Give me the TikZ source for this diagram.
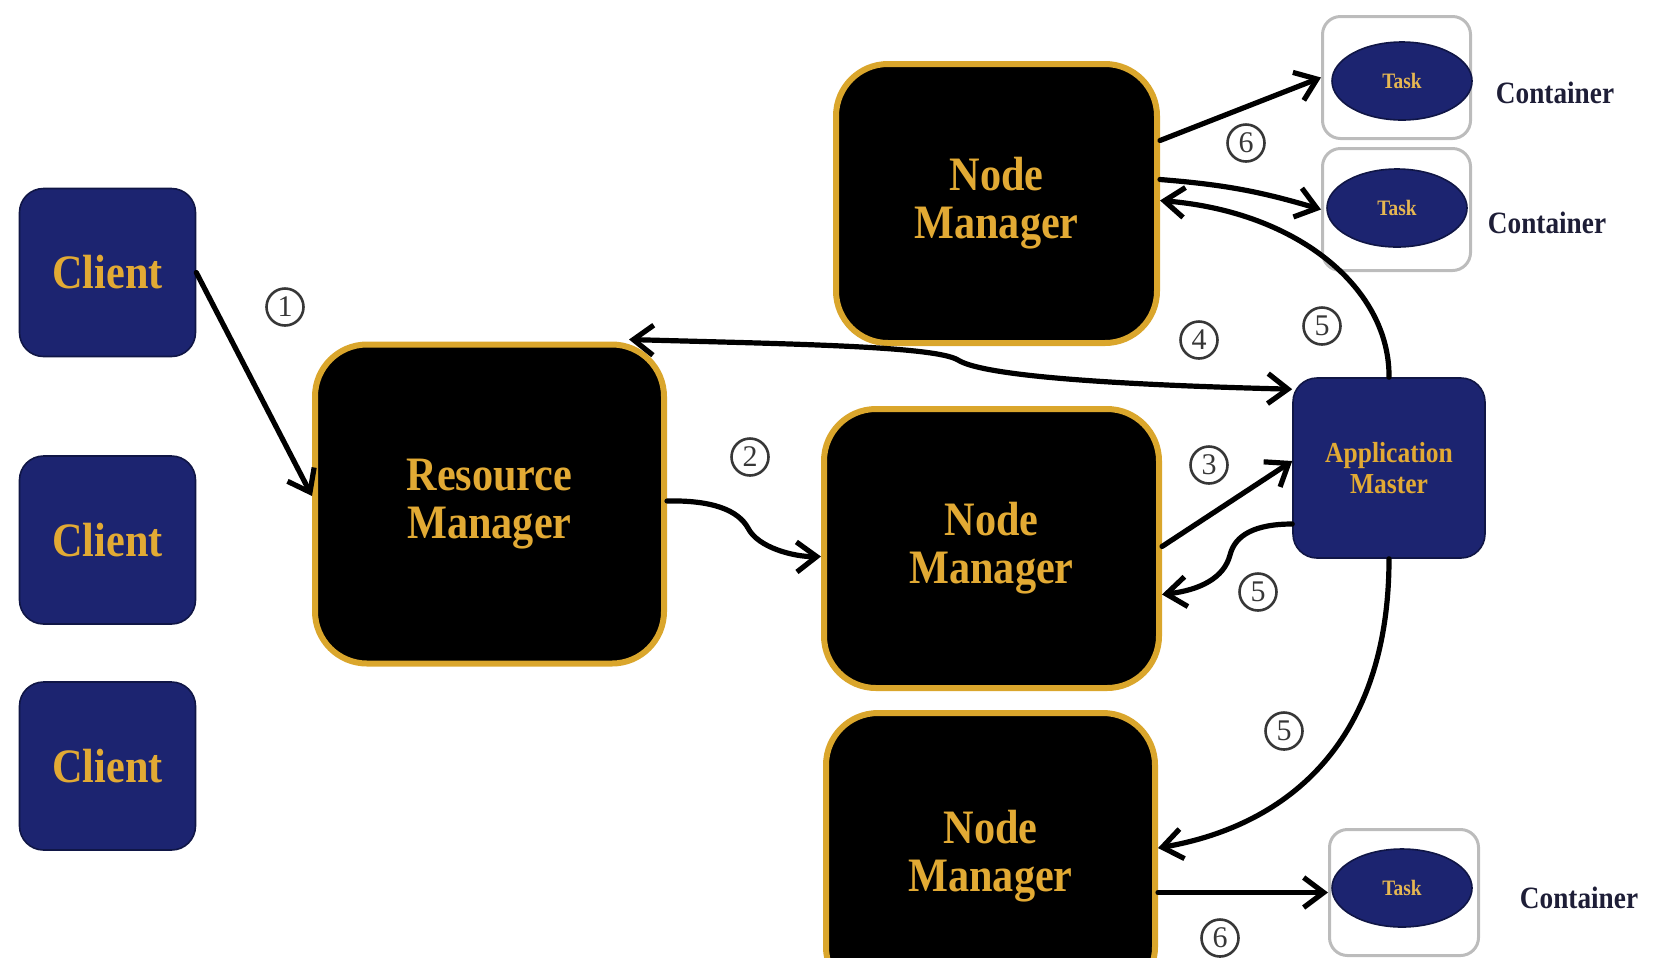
\documentclass[tikz,border=0pt]{standalone}
\usepackage{fontspec}
\setmainfont{Liberation Serif}
\newfontfamily\boxfont[FakeStretch=0.88]{Liberation Serif Bold}
\usetikzlibrary{arrows.meta,calc,shapes.geometric}
\definecolor{navy}{RGB}{28,36,112}
\definecolor{navyedge}{RGB}{16,22,70}
\definecolor{goldtext}{RGB}{226,170,52}
\definecolor{goldedge}{RGB}{218,166,44}
\definecolor{boxgray}{RGB}{188,188,188}
\definecolor{numgray}{RGB}{55,55,55}
\definecolor{inktext}{RGB}{30,30,55}

\begin{document}
\begin{tikzpicture}[x=0.5pt,y=-0.5pt,
  client/.style={draw=navyedge, line width=0.8pt, fill=navy, rounded corners=12pt,
    minimum width=88pt, minimum height=84pt, inner sep=0pt, text=goldtext,
    font=\boxfont\fontsize{24}{23.5}\selectfont},
  manager/.style={draw=goldedge, line width=3pt, fill=black, rounded corners=26pt,
    inner sep=0pt, align=center, text=goldtext,
    font=\boxfont\fontsize{24}{24}\selectfont},
  master/.style={draw=navyedge, line width=0.8pt, fill=navy, rounded corners=12pt,
    minimum width=96pt, minimum height=90pt, inner sep=0pt, align=center, text=goldtext,
    font=\boxfont\fontsize{14.5}{15.5}\selectfont},
  cbox/.style={draw=boxgray, line width=1.5pt, rounded corners=9pt,
    minimum width=74pt, minimum height=61pt, inner sep=0pt},
  task/.style={ellipse, draw=navyedge, line width=0.8pt, fill=navy,
    minimum width=70pt, minimum height=39pt, inner sep=0pt, text=goldtext!85!white,
    font=\boxfont\fontsize{11}{11}\selectfont},
  clabel/.style={text=inktext, font=\boxfont\fontsize{15.5}{16}\selectfont},
  stepnum/.style={circle, draw=numgray, line width=1.3pt, minimum size=18.5pt,
    inner sep=0pt, text=numgray, font=\fontsize{15}{15}\selectfont},
  flow/.style={draw=black, line width=2.6pt, line cap=round,
    -{Straight Barb[length=10pt,width=15pt]}},
  flowboth/.style={draw=black, line width=2.6pt, line cap=round,
    {Straight Barb[length=10pt,width=15pt]}-{Straight Barb[length=10pt,width=15pt]}},
]
\useasboundingbox (0,0) rectangle (1654,966);

% clients
\node[client] (cl1) at (107.5,272.5) {Client};
\node[client] (cl2) at (107.5,540) {Client};
\node[client] (cl3) at (107.5,766) {Client};

% resource manager and node managers
\node[manager, minimum width=174.5pt, minimum height=159.5pt] (rm) at (489.5,504) {Resource\\Manager};
\node[manager, minimum width=160.5pt, minimum height=139.5pt] (nm1) at (996.5,203.5) {Node\\Manager};
\node[manager, minimum width=167.5pt, minimum height=139.5pt] (nm2) at (991.5,548.5) {Node\\Manager};
\begin{scope}
  \clip (0,0) rectangle (1654,957);
  \node[manager, minimum width=164.5pt, minimum height=143pt] (nm3) at (990.5,856) {Node\\Manager};
\end{scope}

% application master
\node[master] (am) at (1389,468) {Application\\Master};

% containers
\node[cbox] (box1) at (1396.5,77.5) {};
\node[task] (task1) at (1402,81) {Task};
\node[clabel] (lab1) at (1555,93) {Container};
\node[cbox] (box2) at (1396.5,209.5) {};
\node[task] (task2) at (1397,208) {Task};
\node[clabel] (lab2) at (1547,223) {Container};
\node[cbox, minimum width=74.5pt, minimum height=63pt] (box3) at (1404,892.5) {};
\node[task] (task3) at (1402,888) {Task};
\node[clabel] (lab3) at (1579,898) {Container};

% connectors
\draw[flow] (cl1.east) -- ($(rm.west)+(0,-8)$);
\draw[flow] ($(rm.east)+(0,-3)$) .. controls (712,500) and (738,510) .. (748,528)
  .. controls (758,548) and (795,557) .. ($(nm2.west)+(0,8)$);
\draw[flow] ($(nm2.east)+(0,-2)$) -- ($(am.west)+(0,-7)$);
\draw[flowboth] ($(rm.north east)+(-38,-2)$) .. controls (790,344) and (935,346) .. (958,360)
  .. controls (980,374) and (1085,384) .. ($(am.north west)+(0,12)$);
\draw[flow] (am.north) .. controls (1390,290) and (1300,212) .. ($(nm1.east)+(0,-3)$);
\draw[flow] ($(nm1.east)+(0,-63)$) -- (box1.west);
\draw[flow] ($(nm1.east)+(0,-24)$) to[bend left=6] (box2.west);
\draw[flow] ($(am.west)+(0,56)$) .. controls (1255,524) and (1235,535) .. (1230,555)
  .. controls (1224,578) and (1200,590) .. ($(nm2.east)+(0,46)$);
\draw[flow] (am.south) .. controls (1389,740) and (1290,825) .. ($(nm3.east)+(0,-8)$);
\draw[flow] ($(nm3.east)+(0,36.5)$) -- (box3.west);

% step labels
\node[stepnum] (n1) at (285,307) {1};
\node[stepnum] (n2) at (750,457) {2};
\node[stepnum] (n3) at (1209,465) {3};
\node[stepnum] (n4) at (1199,340) {4};
\node[stepnum] (n5a) at (1322,326) {5};
\node[stepnum] (n5b) at (1258,592) {5};
\node[stepnum] (n5c) at (1284,731) {5};
\node[stepnum] (n6a) at (1246,143) {6};
\node[stepnum] (n6b) at (1220,938) {6};
\end{tikzpicture}
\end{document}
